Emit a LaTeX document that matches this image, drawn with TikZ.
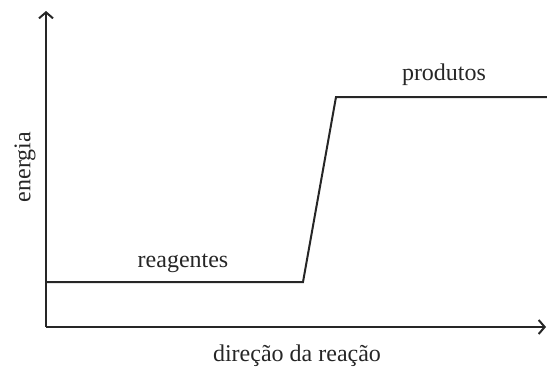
\documentclass[tikz,border=0pt]{standalone}
\usepackage{fontspec}
\setmainfont{Liberation Serif}
\usetikzlibrary{arrows.meta}
\begin{document}
\begin{tikzpicture}[x=1pt,y=-1pt,
  axis/.style={line width=2pt,draw=black!85,-{Straight Barb[length=6pt,width=14pt,line width=2pt]}},
  curve/.style={line width=2pt,draw=black!85,line join=miter},
  lbl/.style={font=\fontsize{24}{26}\selectfont,text=black!85,inner sep=0pt}]
\useasboundingbox (0,0) rectangle (547,372);
\coordinate (O) at (46,327);
\coordinate (Ytop) at (46,11);
\coordinate (Xend) at (546,327);
\coordinate (A) at (46,282);
\coordinate (B) at (303,282);
\coordinate (C) at (336,97);
\coordinate (D) at (547,97);
\draw[axis] (O) -- (Ytop);
\draw[axis] (O) -- (Xend);
\draw[curve] (A) -- (B) -- (C) -- (D);
\node[lbl] (reag) at (183,263) {reagentes};
\node[lbl] (prod) at (444,75) {produtos};
\node[lbl,rotate=90] (en) at (25,167) {energia};
\node[lbl] (dir) at (297,356) {direção da reação};
\end{tikzpicture}
\end{document}
